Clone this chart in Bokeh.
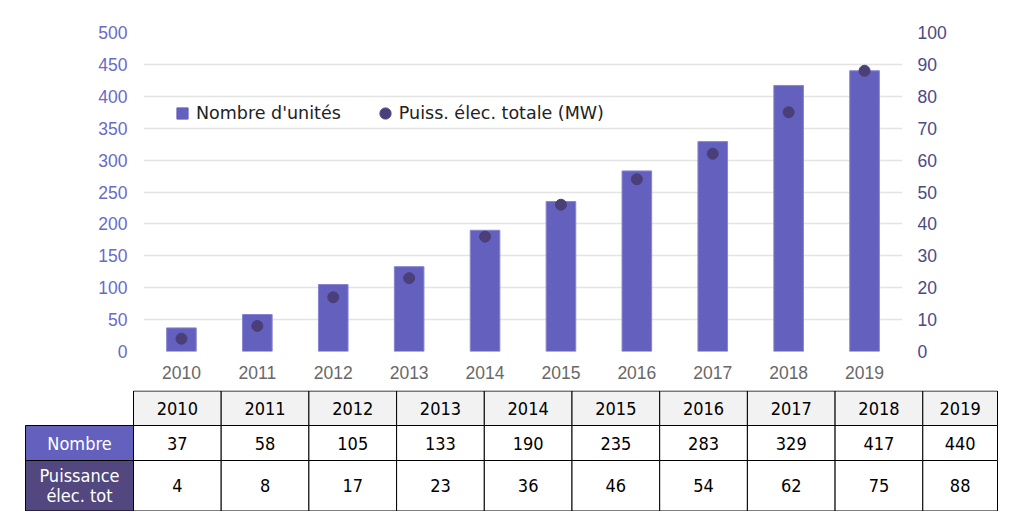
from bokeh.core.properties import value
from bokeh.embed import file_html
from bokeh.models import FactorRange, Legend, LegendItem, LinearAxis, Range1d
from bokeh.plotting import figure
from bokeh.resources import INLINE

years = ["2010", "2011", "2012", "2013", "2014", "2015", "2016", "2017", "2018", "2019"]
nombre = [37, 58, 105, 133, 190, 235, 283, 329, 417, 440]
puissance = [4, 8, 17, 23, 36, 46, 54, 62, 75, 88]
left_ticks = [0, 50, 100, 150, 200, 250, 300, 350, 400, 450, 500]
right_ticks = [0, 10, 20, 30, 40, 50, 60, 70, 80, 90, 100]
row_labels = [["Nombre"], ["Puissance", "élec. tot"]]

bar_color = "#6461be"
dot_color = "#4b3f7a"
label_fills = ["#6461be", "#52477f"]

# --- chart ---
p = figure(x_range=FactorRange(*years), y_range=Range1d(0, 500),
           width=999, height=390, output_backend="svg", toolbar_location=None,
           min_border_left=143, min_border_right=97, min_border_top=32, min_border_bottom=39)
p.extra_y_ranges = {"mw": Range1d(0, 100)}
p.add_layout(LinearAxis(y_range_name="mw", ticker=right_ticks), "right")
p.yaxis[0].ticker = left_ticks

p.outline_line_color = None
p.xgrid.grid_line_color = None
p.ygrid.grid_line_color = "#e4e4e4"
p.ygrid.grid_line_width = 1.5
p.ygrid.ticker = left_ticks

for ax in p.axis:
    ax.axis_line_color = None
    ax.major_tick_line_color = None
    ax.minor_tick_line_color = None
    ax.major_label_text_font = "Liberation Sans"
    ax.major_label_text_font_size = "17.5px"
p.xaxis.major_label_text_color = "#686868"
p.xaxis.major_label_standoff = 8
p.yaxis[0].major_label_text_color = "#6a6ac8"
p.yaxis[0].major_label_standoff = 10
p.yaxis[1].major_label_text_color = "#4a4a88"
p.yaxis[1].major_label_standoff = 9

p.vbar(x=years, top=nombre, width=0.39, fill_color=bar_color, line_color="#8785cf", line_width=1)
dots = p.scatter(x=years, y=puissance, y_range_name="mw", size=11, color=dot_color)
sq = p.scatter(x=years[:1], y=[float("nan")], marker="square", size=11, color=bar_color)

legend = Legend(items=[LegendItem(label="Nombre d'unités", renderers=[sq]),
                       LegendItem(label="Puiss. élec. totale (MW)", renderers=[dots])],
                location=(25, 224), orientation="horizontal",
                glyph_width=28, glyph_height=28, label_standoff=0, spacing=30,
                padding=0, margin=0, border_line_color=None, background_fill_alpha=0,
                label_text_font="DejaVu Sans", label_text_font_size="17.5px",
                label_text_color="#222222")
p.add_layout(legend)

# --- table below ---
t = figure(x_range=Range1d(0, 999), y_range=Range1d(511, 390),
           width=999, height=121, output_backend="svg", toolbar_location=None,
           x_axis_location=None, y_axis_location=None, min_border=0)
t.grid.visible = False
t.outline_line_color = None

col_w = 87.7
col_left = [133 + col_w * i for i in range(len(years))]
col_right = [min(l + col_w, 997) for l in col_left]
col_mid = [(l + r) / 2 for l, r in zip(col_left, col_right)]
row_edges = [390.5, 425, 460, 510.5]
tfont = value("DejaVu Sans Condensed, DejaVu Sans")

t.quad(left=col_left, right=col_right, top=row_edges[0], bottom=row_edges[1],
       fill_color="#f2f2f2", line_color="black", line_width=1)
for r in (1, 2):
    t.quad(left=col_left, right=col_right, top=row_edges[r], bottom=row_edges[r + 1],
           fill_color="white", line_color="black", line_width=1)
    t.quad(left=[25], right=[133], top=row_edges[r], bottom=row_edges[r + 1],
           fill_color=label_fills[r - 1], line_color="black", line_width=1)

mids = [(row_edges[i] + row_edges[i + 1]) / 2 for i in range(3)]
t.text(x=col_mid, y=[mids[0]] * len(years), text=years, text_font=tfont, text_font_size="18px",
       text_align="center", text_baseline="middle", text_color="black")
t.text(x=col_mid, y=[mids[1]] * len(years), text=[str(v) for v in nombre], text_font=tfont,
       text_font_size="18px", text_align="center", text_baseline="middle", text_color="black")
t.text(x=col_mid, y=[mids[2]] * len(years), text=[str(v) for v in puissance], text_font=tfont,
       text_font_size="18px", text_align="center", text_baseline="middle", text_color="black")

for r, lines in enumerate(row_labels):
    n = len(lines)
    ys = [mids[r + 1] + (i - (n - 1) / 2) * 20 for i in range(n)]
    t.text(x=[79] * n, y=ys, text=lines, text_font=tfont, text_font_size="18px",
           text_align="center", text_baseline="middle", text_color="white")

open("out.html", "w").write(file_html([p, t], INLINE))
